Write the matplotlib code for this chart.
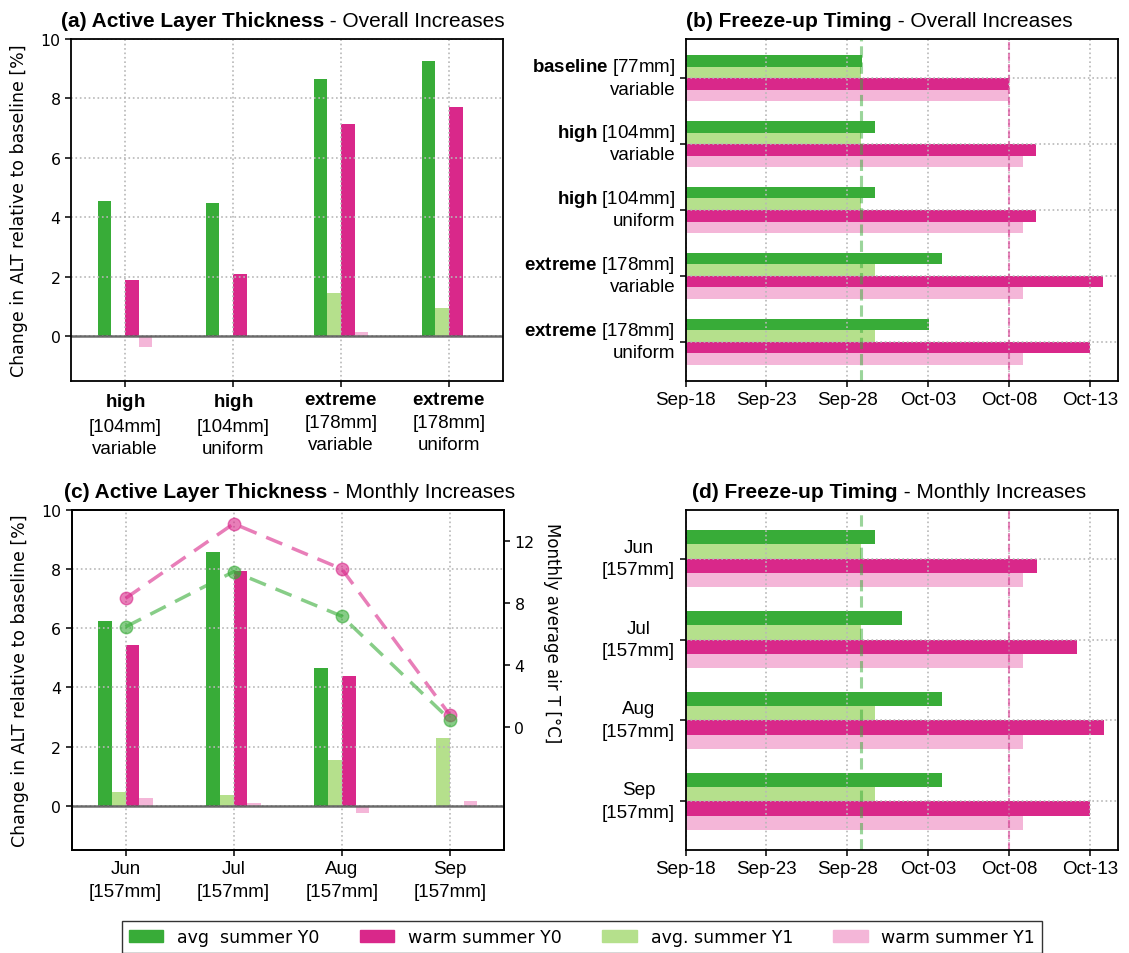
import matplotlib
matplotlib.use("Agg")
import matplotlib.pyplot as plt
import matplotlib.transforms as mtrans
import numpy as np
from matplotlib.offsetbox import TextArea, HPacker, AnchoredOffsetbox
from matplotlib.patches import Patch

plt.rcParams['mathtext.fontset'] = 'custom'
plt.rcParams['mathtext.rm'] = 'Liberation Sans'
plt.rcParams['mathtext.bf'] = 'Liberation Sans:bold'
plt.rcParams['mathtext.it'] = 'Liberation Sans:italic'
plt.rcParams['font.family'] = 'DejaVu Sans'

# ---------------- colours ----------------
C_G0 = '#38ac38'   # avg summer Y0
C_M0 = '#d9288a'   # warm summer Y0
C_G1 = '#b5e08c'   # avg summer Y1
C_M1 = '#f4b6d8'   # warm summer Y1

series_labels = ['avg  summer Y0', 'warm summer Y0', 'avg. summer Y1', 'warm summer Y1']

# ---------------- panel (a) data ----------------
scen_bold = ['high', 'high', 'extreme', 'extreme']
scen_amount = ['[104mm]', '[104mm]', '[178mm]', '[178mm]']
scen_type = ['variable', 'uniform', 'variable', 'uniform']
alt_avg_y0 = [4.55, 4.48, 8.65, 9.26]
alt_avg_y1 = [0.0, 0.0, 1.47, 0.96]
alt_warm_y0 = [1.91, 2.11, 7.13, 7.70]
alt_warm_y1 = [-0.35, 0.02, 0.15, 0.0]

# ---------------- panel (b) data (day of year) ----------------
fz_bold = ['baseline', 'high', 'high', 'extreme', 'extreme']
fz_amount = ['[77mm]', '[104mm]', '[104mm]', '[178mm]', '[178mm]']
fz_type = ['variable', 'variable', 'uniform', 'variable', 'uniform']
fz_avg_y0 = [271.88, 272.70, 272.70, 276.83, 276.03]
fz_avg_y1 = [271.84, 271.84, 271.84, 272.70, 272.70]
fz_warm_y0 = [281.02, 282.69, 282.69, 286.82, 286.00]
fz_warm_y1 = [281.00, 281.83, 281.83, 281.83, 281.83]
baseline_avg = 271.84
baseline_warm = 281.00

date_ticks = [261, 266, 271, 276, 281, 286]
date_labels = ['Sep-18', 'Sep-23', 'Sep-28', 'Oct-03', 'Oct-08', 'Oct-13']

# ---------------- panel (c) data ----------------
months = ['Jun', 'Jul', 'Aug', 'Sep']
month_amount = ['[157mm]', '[157mm]', '[157mm]', '[157mm]']
m_alt_avg_y0 = [6.23, 8.59, 4.67, 0.0]
m_alt_avg_y1 = [0.45, 0.35, 1.53, 2.28]
m_alt_warm_y0 = [5.42, 7.95, 4.37, 0.0]
m_alt_warm_y1 = [0.25, 0.08, -0.26, 0.15]
temp_avg = [6.47, 10.03, 7.16, 0.49]
temp_warm = [8.31, 13.12, 10.20, 0.79]

# ---------------- panel (d) data ----------------
m_fz_avg_y0 = [272.72, 274.38, 276.85, 276.85]
m_fz_avg_y1 = [271.86, 271.86, 272.72, 272.72]
m_fz_warm_y0 = [282.71, 285.17, 286.84, 286.01]
m_fz_warm_y1 = [281.84, 281.84, 281.84, 281.84]

# ---------------- styling ----------------
CAT_FONT = dict(fontfamily='Liberation Sans', fontsize=13.5, linespacing=1.4)
NUM_FS = 11.3
TITLE_FS = 15
W = 1129
H = 954

fig = plt.figure(figsize=(W / 100, H / 100), dpi=100)


def px_axes(l, r, t, b):
    return fig.add_axes([l / W, 1 - b / H, (r - l) / W, (b - t) / H])


ax_a = px_axes(71, 503, 40, 382)
ax_b = px_axes(685.5, 1117.5, 40, 382)
ax_c = px_axes(71.5, 504, 511, 851)
ax_d = px_axes(685.5, 1117.5, 511, 851)


def style(ax):
    for s in ax.spines.values():
        s.set_linewidth(1.3)
        s.set_zorder(5)
    ax.tick_params(width=1.1, length=4, color='k')
    ax.grid(True, ls=':', color='#b8b8b8', lw=1.2)
    ax.set_axisbelow(False)


def shift_ylabels(ax, dy_px):
    off = mtrans.ScaledTranslation(0, dy_px / 100, fig.dpi_scale_trans)
    for lbl in ax.get_yticklabels():
        lbl.set_transform(lbl.get_transform() + off)


def mixed_title(ax, bold, rest, xc=0.5):
    tb = TextArea(bold, textprops=dict(fontweight='bold', fontfamily='Liberation Sans', fontsize=TITLE_FS))
    tr = TextArea(rest, textprops=dict(fontfamily='Liberation Sans', fontsize=TITLE_FS))
    box = HPacker(children=[tb, tr], align='baseline', pad=0, sep=0)
    anch = AnchoredOffsetbox(loc='lower center', child=box, pad=0, borderpad=0, frameon=False,
                             bbox_to_anchor=(xc, 1.026), bbox_transform=ax.transAxes)
    ax.add_artist(anch)


def vbars(ax, x, w, vals):
    cols = [C_G0, C_G1, C_M0, C_M1]
    offs = [-1.5, -0.5, 0.5, 1.5]
    for v, c, o in zip(vals, cols, offs):
        ax.bar(x + o * w, v, w, color=c, linewidth=0)


def hbars(ax, y, h, vals):
    cols = [C_G0, C_G1, C_M0, C_M1]
    offs = [-1.5, -0.5, 0.5, 1.5]
    for v, c, o in zip(vals, cols, offs):
        ax.barh(y + o * h, v, h, color=c, linewidth=0)


# ---------------- (a) ----------------
xa = np.arange(len(scen_bold))
vbars(ax_a, xa, 0.127, [alt_avg_y0, alt_avg_y1, alt_warm_y0, alt_warm_y1])
ax_a.axhline(0, color='#555555', lw=1.8, alpha=0.85, zorder=3)
ax_a.set_xlim(-0.5, 3.5)
ax_a.set_ylim(-1.5, 10)
ax_a.set_yticks([0, 2, 4, 6, 8, 10])
ax_a.tick_params(axis='y', labelsize=NUM_FS)
lab_a = [r'$\bf{' + b + '}$\n' + a + '\n' + t for b, a, t in zip(scen_bold, scen_amount, scen_type)]
ax_a.set_xticks(xa, lab_a, multialignment='center', **CAT_FONT)
ax_a.set_ylabel('Change in ALT relative to baseline [%]', fontsize=12.5, labelpad=9)
style(ax_a)
mixed_title(ax_a, '(a) Active Layer Thickness', ' - Overall Increases', 0.49)

# ---------------- (b) ----------------
yb = np.arange(len(fz_bold))
hbars(ax_b, yb, 0.175, [fz_avg_y0, fz_avg_y1, fz_warm_y0, fz_warm_y1])
ax_b.axvline(baseline_avg, color=C_G0, ls='--', lw=2.2, alpha=0.5, zorder=3)
ax_b.axvline(baseline_warm, color=C_M0, ls='--', lw=1.5, alpha=0.55, zorder=3)
ax_b.set_xlim(261, 287.7)
ax_b.set_ylim(4.6, -0.6)
ax_b.set_xticks(date_ticks, date_labels, **CAT_FONT)
lab_b = [r'$\bf{' + b + '}$ ' + a + '\n' + t for b, a, t in zip(fz_bold, fz_amount, fz_type)]
ax_b.set_yticks(yb, lab_b, multialignment='right', fontfamily='Liberation Sans', fontsize=13.5,
                linespacing=1.25)
style(ax_b)
shift_ylabels(ax_b, 5)
mixed_title(ax_b, '(b) Freeze-up Timing', ' - Overall Increases', 0.448)

# ---------------- (c) ----------------
xc = np.arange(len(months))
vbars(ax_c, xc, 0.127, [m_alt_avg_y0, m_alt_avg_y1, m_alt_warm_y0, m_alt_warm_y1])
ax_c.axhline(0, color='#555555', lw=1.8, alpha=0.85, zorder=3)
ax_c.set_xlim(-0.5, 3.5)
ax_c.set_ylim(-1.5, 10)
ax_c.set_yticks([0, 2, 4, 6, 8, 10])
ax_c.tick_params(axis='y', labelsize=NUM_FS)
lab_c = [m + '\n' + a for m, a in zip(months, month_amount)]
ax_c.set_xticks(xc, lab_c, multialignment='center', **CAT_FONT)
ax_c.set_ylabel('Change in ALT relative to baseline [%]', fontsize=12.5, labelpad=9)
style(ax_c)
mixed_title(ax_c, '(c) Active Layer Thickness', ' - Monthly Increases', 0.505)

ax_t = ax_c.twinx()
ax_t.plot(xc, temp_warm, ls='--', marker='o', color=C_M0, alpha=0.6, lw=2.5, ms=9, dashes=(5, 3))
ax_t.plot(xc, temp_avg, ls='--', marker='o', color=C_G0, alpha=0.6, lw=2.5, ms=9, dashes=(5, 3))
ax_t.set_ylim(-7.9, 14)
ax_t.set_yticks([0, 4, 8, 12])
ax_t.tick_params(axis='y', labelsize=NUM_FS, width=1.1, length=4)
ax_t.set_ylabel('Monthly average air T [°C]', fontsize=12, rotation=270, va='bottom', labelpad=6)
ax_t.yaxis.label.set_y(0.641)
for s in ax_t.spines.values():
    s.set_linewidth(1.3)
    s.set_zorder(5)

# ---------------- (d) ----------------
yd = np.arange(len(months))
hbars(ax_d, yd, 0.178, [m_fz_avg_y0, m_fz_avg_y1, m_fz_warm_y0, m_fz_warm_y1])
ax_d.axvline(baseline_avg, color=C_G0, ls='--', lw=2.2, alpha=0.5, zorder=3)
ax_d.axvline(baseline_warm, color=C_M0, ls='--', lw=1.5, alpha=0.55, zorder=3)
ax_d.set_xlim(261, 287.7)
ax_d.set_ylim(3.6, -0.6)
ax_d.set_xticks(date_ticks, date_labels, **CAT_FONT)
ax_d.set_yticks(yd, lab_c, multialignment='center', **CAT_FONT)
style(ax_d)
shift_ylabels(ax_d, 5)
mixed_title(ax_d, '(d) Freeze-up Timing', ' - Monthly Increases', 0.471)

# ---------------- legend ----------------
handles = [Patch(color=C_G0), Patch(color=C_M0), Patch(color=C_G1), Patch(color=C_M1)]
leg = fig.legend(handles, series_labels, loc='upper center', bbox_to_anchor=(582 / W, 1 - 922 / H),
                 ncol=4, fontsize=12.5, frameon=True, fancybox=False, edgecolor='k',
                 handlelength=2.0, columnspacing=2.3, borderaxespad=0)
leg.get_frame().set_linewidth(1.0)

fig.savefig('out.png', dpi=100)
